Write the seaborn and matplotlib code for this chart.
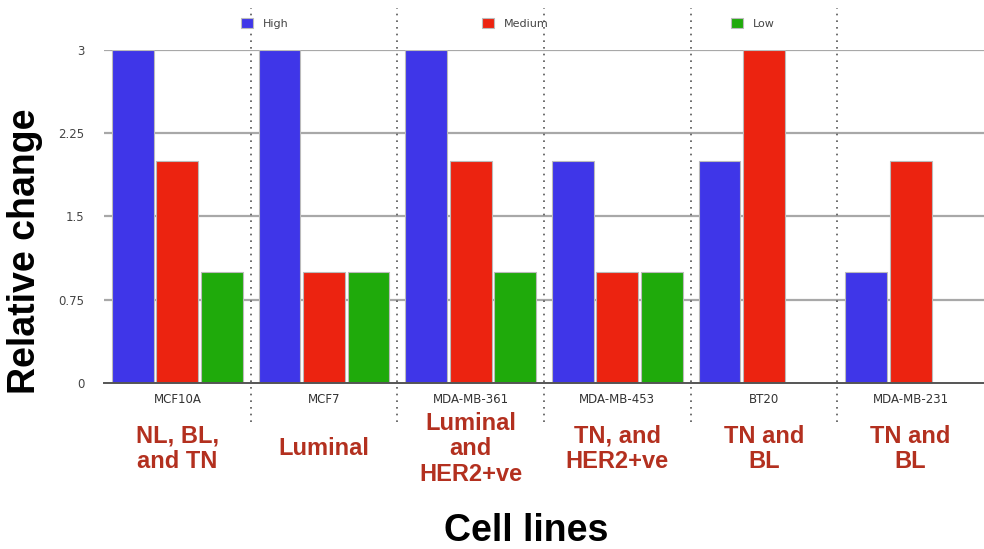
import matplotlib
matplotlib.use("Agg")
import matplotlib.pyplot as plt
import seaborn as sns
import pandas as pd

# Expression levels per cell line
cell_lines = ["MCF10A", "MCF7", "MDA-MB-361", "MDA-MB-453", "BT20", "MDA-MB-231"]
high = [3, 3, 3, 2, 2, 1]
medium = [2, 1, 2, 1, 3, 2]
low = [1, 1, 1, 1, 0, 0]
subtypes = ["NL, BL,\nand TN", "Luminal", "Luminal\nand\nHER2+ve",
            "TN, and\nHER2+ve", "TN and\nBL", "TN and\nBL"]
yticks = [0, 0.75, 1.5, 2.25, 3]
ytick_labels = ["0", "0.75", "1.5", "2.25", "3"]

levels = ["High", "Medium", "Low"]
palette = {"High": "#3F36E8", "Medium": "#EC2310", "Low": "#1FAA0B"}

df = pd.DataFrame({
    "Cell line": cell_lines * 3,
    "Level": ["High"] * 6 + ["Medium"] * 6 + ["Low"] * 6,
    "Value": high + medium + low,
})

sns.set_theme(style="white")
plt.rcParams["font.family"] = ["Liberation Sans", "DejaVu Sans"]

fig = plt.figure(figsize=(9.84, 5.49), dpi=100)
ax = fig.add_axes([0.1057, 0.3024, 0.8943, 0.6065])

sns.barplot(data=df, x="Cell line", y="Value", hue="Level", hue_order=levels,
            order=cell_lines, palette=palette, width=0.91, gap=0.06,
            edgecolor="#BBBBBB", linewidth=0.8, saturation=1, ax=ax,
            errorbar=None, zorder=3)

ax.set_ylim(0, 3)
ax.set_xlim(-0.5, 5.5)
ax.set_yticks(yticks)
ax.set_yticklabels(ytick_labels, fontsize=8.5, color="#444444",
                   family=["DejaVu Sans"])
ax.tick_params(axis="y", length=0, pad=14)
ax.tick_params(axis="x", length=0, pad=7)
ax.set_xticks(range(len(cell_lines)))
ax.set_xticklabels(cell_lines, fontsize=8.5, color="#333333",
                   family=["DejaVu Sans"])

# Horizontal grid lines
for v in yticks[1:]:
    ax.axhline(v, color="#A8A8A8", lw=1.6, zorder=1)
for s in ["top", "right", "left"]:
    ax.spines[s].set_visible(False)
ax.spines["bottom"].set_color("#555555")
ax.spines["bottom"].set_linewidth(1.4)
ax.spines["bottom"].set_zorder(4)

# Dotted separators between cell lines
for i in range(len(cell_lines) - 1):
    ax.axvline(i + 0.5, ymin=-0.117, ymax=1.126, color="#555555",
               lw=1.2, ls=(0, (1, 3)), clip_on=False, zorder=2)

# Subtype labels beneath each cell line
for i, txt in enumerate(subtypes):
    ax.text(i, -0.198, txt, transform=ax.get_xaxis_transform(),
            ha="center", va="center", fontsize=17, fontweight="bold",
            color="#B3301F", linespacing=1.15)

ax.set_ylabel("Relative change", fontsize=27, fontweight="bold",
              color="black")
ax.yaxis.set_label_coords(-0.069, 0.396)
ax.set_xlabel("")
fig.text(0.5346, 0.033, "Cell lines", ha="center", va="center",
         fontsize=27, fontweight="bold", color="black")

ax.get_legend().remove()
# One legend entry per level, spread across the top
legend_x = [0.2448, 0.4898, 0.7428]
for lvl, x in zip(levels, legend_x):
    h = plt.Rectangle((0, 0), 1, 1, facecolor=palette[lvl],
                      edgecolor="#BBBBBB", lw=0.8)
    fig.legend([h], [lvl], loc="center left", bbox_to_anchor=(x, 0.958),
               frameon=False, labelcolor="#444444", handlelength=1.1,
               handleheight=1.1, handletextpad=0.9, borderpad=0,
               borderaxespad=0, prop={"family": "DejaVu Sans", "size": 8})

fig.savefig("out.png", dpi=100)
